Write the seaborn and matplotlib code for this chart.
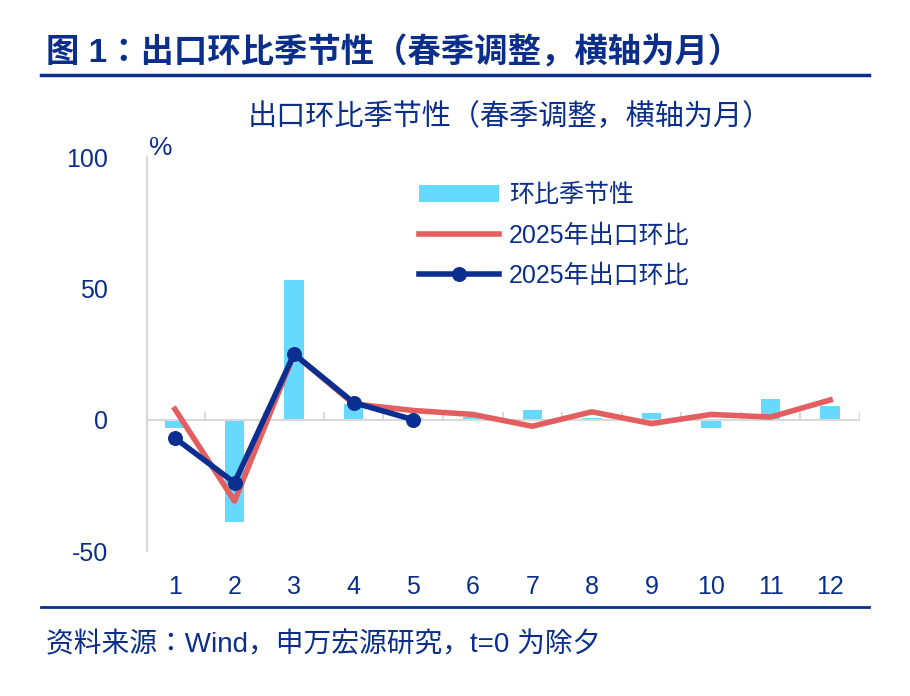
import matplotlib
matplotlib.use("Agg")
import matplotlib.pyplot as plt
import seaborn as sns
import pandas as pd

months = list(range(1, 13))
seasonal = [-3, -39, 53, 6, 0.5, 1, 3.8, 0.5, 2.6, -3.3, 7.8, 5.3]
red_2025 = [4, -31, 25, 6, 3.5, 2, -2.5, 3, -1.5, 2, 1, 7.5]
blue_months = [1, 2, 3, 4, 5]
blue_2025 = [-7, -24, 25, 6.5, 0]
yticks = [-50, 0, 50, 100]

plt.rcParams["font.family"] = ["Liberation Sans", "Noto Sans CJK JP"]
plt.rcParams["axes.unicode_minus"] = False
navy = "#0A2E8A"
fig = plt.figure(figsize=(9.10, 6.96), dpi=100)
ax = fig.add_axes([0.1615, 0.2083, 0.7835, 0.5661])

df = pd.DataFrame({"m": months, "s": seasonal, "r": red_2025})
sns.barplot(data=df, x="m", y="s", native_scale=True, color="#66D9FF", width=0.33,
            saturation=1, ax=ax, label="环比季节性")
sns.lineplot(data=df, x="m", y="r", color="#E35E5E", lw=4, ax=ax, label="2025年出口环比")
sns.lineplot(x=blue_months, y=blue_2025, color="#0B2F91", lw=4, marker="o", ms=10,
             mec="#0B2F91", ax=ax, label="2025年出口环比")

ax.set_xlim(0.53, 12.5)
ax.set_ylim(-50, 100)
ax.set_yticks(yticks)
ax.set_xticks(months)
ax.tick_params(axis="y", length=0, labelsize=18, colors=navy, pad=28)
ax.tick_params(axis="x", length=0, labelsize=18, colors=navy, pad=17)
for s in ["top", "right", "bottom"]:
    ax.spines[s].set_visible(False)
ax.spines["left"].set_color("#D9D9D9")
ax.spines["left"].set_linewidth(1.5)
ax.axhline(0, color="#D9D9D9", lw=1.5, zorder=1)
for m in months:
    ax.plot([m + 0.5, m + 0.5], [0, 2.5], color="#D9D9D9", lw=1.5, zorder=1)
ax.set_xlabel("")
ax.set_ylabel("")
ax.text(0.57, 99, "%", fontsize=19, color=navy, ha="left", va="bottom", clip_on=False)

h, l = ax.get_legend_handles_labels()
order = [i for i, x in enumerate(l) if x == "环比季节性"] + [i for i, x in enumerate(l) if x != "环比季节性"]
leg = ax.legend([h[i] for i in order], [l[i] for i in order], loc="upper left",
                bbox_to_anchor=(0.35, 0.99), frameon=False,
                fontsize=18, handlelength=3.2, labelspacing=0.65, handletextpad=0.4)
for t in leg.get_texts():
    t.set_color(navy)

fig.text(0.05, 0.925, "图 1：出口环比季节性（春季调整，横轴为月）", fontsize=24,
         fontweight="bold", color=navy, ha="left", va="center")
fig.add_artist(plt.Line2D([0.045, 0.955], [0.892, 0.892], color=navy, lw=2.5))
fig.text(0.56, 0.832, "出口环比季节性（春季调整，横轴为月）", fontsize=21,
         color=navy, ha="center", va="center")
fig.add_artist(plt.Line2D([0.045, 0.955], [0.128, 0.128], color=navy, lw=2))
fig.text(0.05, 0.073, "资料来源：Wind，申万宏源研究，t=0 为除夕", fontsize=20,
         color=navy, ha="left", va="center")
fig.savefig("out.png", dpi=100)
